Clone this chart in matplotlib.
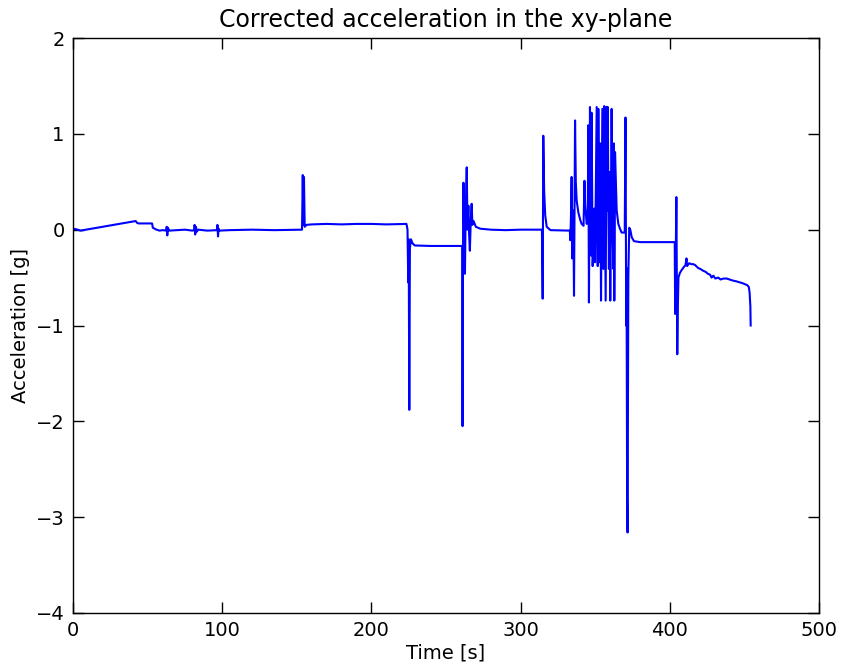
import matplotlib
matplotlib.use("Agg")
import matplotlib.pyplot as plt

# Time stamps [s] and corrected xy-plane acceleration [g]
time_s = [
    0.0, 2.0, 5.0, 42.0, 43.0, 44.0, 53.0, 53.5, 56.0, 58.0,
    60.0, 62.5, 62.8, 63.2, 63.6, 64.5, 70.0, 75.0, 80.0, 81.3, 81.5, 81.9, 82.4, 83.0, 84.0,
    90.0, 96.6, 96.8, 97.2, 97.6, 98.0, 105.0, 120.0, 135.0, 153.0,
    153.5, 154.0, 154.4, 154.8, 155.3, 156.5, 160.0, 170.0, 180.0, 190.0, 200.0, 210.0, 223.5,
    224.2, 224.7, 225.0, 225.4, 225.8, 226.5, 227.5, 229.0, 240.0, 250.0, 260.8,
    261.1, 261.5, 261.7, 262.2, 262.7, 263.2, 263.9, 264.4, 265.0, 265.5, 266.0, 266.6,
    267.2, 267.7, 268.5, 270.0, 273.0, 280.0, 290.0, 300.0, 314.3,
    314.8, 315.2, 315.8, 316.5, 317.5, 320.0, 333.0,
    333.3, 333.7, 334.2, 334.6, 335.3, 335.8, 336.5, 337.0, 337.6, 338.7, 340.0, 340.9,
    342.2, 342.8, 343.3, 344.3, 345.0, 345.4, 345.8, 346.5, 347.2, 347.6, 348.3, 349.4,
    349.9, 351.0, 351.7, 352.1, 352.8, 353.4, 353.9, 354.8, 355.5, 356.1, 357.0, 357.7,
    358.1, 358.4, 359.2, 359.6, 360.1, 361.0, 361.6, 362.2, 362.5, 362.8, 363.3, 364.0,
    364.4, 365.5, 366.6, 367.7, 369.8, 370.3, 370.8, 371.0, 371.4, 371.7, 372.2, 372.8,
    373.5, 374.5, 376.0, 380.0, 390.0, 403.3,
    403.6, 404.0, 404.4, 404.7, 405.0, 405.4, 405.8, 406.8, 408.0, 409.4, 410.5, 411.2,
    411.6, 413.0, 414.4, 415.8, 417.0, 419.0, 420.5, 422.5, 424.0, 425.5, 427.0, 428.0,
    429.2, 430.5, 432.5, 434.0, 436.0, 438.1, 440.0, 442.0, 444.8, 447.0, 449.0, 452.0,
    453.0, 453.5, 454.0, 454.2,
]
accel_g = [
    0.01, 0.005, -0.01, 0.09, 0.07, 0.065, 0.065, 0.02, 0.0, -0.01,
    -0.005, -0.01, 0.03, -0.06, 0.02, -0.01, -0.005, 0.0, -0.01, -0.005, 0.05, -0.05, 0.03, -0.02, 0.0,
    -0.01, -0.005, 0.05, -0.07, 0.01, -0.01, -0.005, 0.0, -0.005, 0.0,
    0.0, 0.57, 0.05, 0.55, 0.03, 0.05, 0.055, 0.06, 0.055, 0.06, 0.06, 0.055, 0.06,
    0.0, -0.55, -0.1, -1.88, -0.2, -0.1, -0.14, -0.165, -0.17, -0.17, -0.17,
    -2.05, 0.2, 0.49, -0.1, -0.46, 0.2, 0.65, 0.0, 0.25, -0.05, -0.22, 0.1,
    0.27, 0.05, 0.09, 0.03, 0.01, 0.0, -0.005, 0.0, 0.0,
    -0.72, 0.98, 0.4, 0.15, 0.03, -0.005, -0.01,
    -0.11, 0.1, 0.55, -0.3, 0.2, -0.69, 1.14, 0.5, 0.3, 0.18, 0.1, 0.06,
    0.04, 0.51, 0.25, 0.06, 0.1, 1.09, -0.76, 1.28, -0.27, 1.22, -0.38, 0.22,
    -0.34, 1.28, -0.38, 1.26, -0.34, 0.9, -0.74, 1.26, -0.41, 1.29, -0.74, 1.28,
    0.2, 1.28, -0.41, 0.6, -0.74, 1.26, 0.0, -0.41, 0.9, -0.74, 0.81, 0.4,
    0.2, 0.06, 0.01, -0.03, -0.03, 1.17, -1.0, -0.4, -2.8, -3.16, -0.5, 0.02,
    0.0, -0.08, -0.12, -0.13, -0.13, -0.13,
    -0.88, -0.3, 0.34, -0.5, -1.3, -0.8, -0.5, -0.45, -0.42, -0.39, -0.37, -0.3,
    -0.38, -0.35, -0.36, -0.36, -0.37, -0.40, -0.41, -0.43, -0.44, -0.46, -0.47, -0.5,
    -0.48, -0.51, -0.50, -0.52, -0.51, -0.51, -0.52, -0.53, -0.54, -0.55, -0.56, -0.58,
    -0.6, -0.66, -0.8, -1.0,
]

x_ticks = [0, 100, 200, 300, 400, 500]
y_ticks = [-4, -3, -2, -1, 0, 1, 2]

plt.rcParams["font.family"] = ["DejaVu Sans"]
plt.rcParams["axes.unicode_minus"] = True

fig = plt.figure(figsize=(8.43, 6.71), dpi=100, facecolor="white")
ax = fig.add_axes([73 / 843, 58 / 671, 746 / 843, 575 / 671])

ax.plot(time_s, accel_g, color="#0000ff", linewidth=1.5)

ax.set_xlim(0, 500)
ax.set_ylim(-4, 2)
ax.set_xticks(x_ticks)
ax.set_yticks(y_ticks)
ax.tick_params(direction="in", top=True, right=True, length=8, width=1,
               labelsize=14, pad=6)
for spine in ax.spines.values():
    spine.set_linewidth(1.0)

ax.set_title("Corrected acceleration in the xy-plane", fontsize=17, pad=8)
ax.set_xlabel("Time [s]", fontsize=14, labelpad=2)
ax.set_ylabel("Acceleration [g]", fontsize=14, labelpad=4)

fig.savefig("out.png", dpi=100, facecolor="white")
